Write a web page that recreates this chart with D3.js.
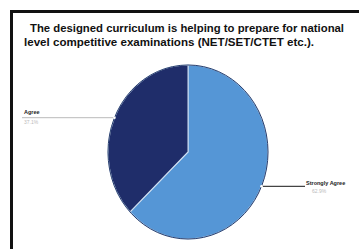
<!DOCTYPE html>
<html>
<head>
<meta charset="utf-8">
<script src="https://cdn.jsdelivr.net/npm/d3@7"></script>
<style>
  body { margin: 0; background: #fff; }
  svg { display: block; }
</style>
</head>
<body>
<svg id="chart"></svg>
<script>
const categories = ["Strongly Agree", "Agree"];
const values = [62.9, 37.1];
const pctLabels = ["62.9%", "37.1%"];
const colors = ["#5596d6", "#1f2d6a"];
const titleLines = [
    "The designed curriculum is helping to prepare for national",
    "level competitive examinations (NET/SET/CTET etc.)."
];

const width = 359, height = 249;
const svg = d3.select("#chart").attr("width", width).attr("height", height);

// frame (left and top edges visible in crop)
svg.append("path")
    .attr("d", "M11.5,249 V11.5 H359")
    .attr("fill", "none")
    .attr("stroke", "#111")
    .attr("stroke-width", 3);

const title = svg.append("text")
    .attr("font-family", "Liberation Sans, Arial, sans-serif")
    .attr("font-weight", "bold")
    .attr("font-size", 11.5)
    .attr("fill", "#111");
title.append("tspan").attr("x", 30).attr("y", 32).attr("textLength", 314).attr("lengthAdjust", "spacingAndGlyphs").text(titleLines[0]);
title.append("tspan").attr("x", 24).attr("y", 46).attr("textLength", 290).attr("lengthAdjust", "spacingAndGlyphs").text(titleLines[1]);

const cx = 188, cy = 152, rx = 80, ry = 87;

const pie = d3.pie().sort(null).value(d => d)(values);
const arc = d3.arc().innerRadius(0).outerRadius(rx);

svg.append("g")
    .attr("transform", `translate(${cx},${cy}) scale(1,${ry / rx})`)
    .selectAll("path")
    .data(pie)
    .join("path")
        .attr("d", arc)
        .attr("fill", (d, i) => colors[i])
        .attr("stroke", "#cfe0f2")
        .attr("stroke-width", 1);

// outer rim
svg.append("ellipse")
    .attr("cx", cx).attr("cy", cy).attr("rx", rx).attr("ry", ry)
    .attr("fill", "none").attr("stroke", "#2a3f6e").attr("stroke-width", 1);

// labels with horizontal leader lines
pie.forEach((d, i) => {
    const a = (d.startAngle + d.endAngle) / 2;
    const px = cx + Math.sin(a) * rx;
    const py = cy - Math.cos(a) * ry;
    const right = Math.sin(a) > 0;
    const ex = right ? 305 : 22;
    svg.append("line")
        .attr("x1", px).attr("y1", py).attr("x2", ex).attr("y2", py)
        .attr("stroke", right ? "#444" : "#bbb").attr("stroke-width", right ? 1.2 : 1);
    svg.append("circle").attr("cx", px).attr("cy", py).attr("r", 1.3).attr("fill", "#fff");
    const tx = right ? 306 : 24;
    svg.append("text")
        .attr("x", tx).attr("y", right ? py - 1 : py - 4)
        .attr("font-family", "Liberation Sans, Arial, sans-serif")
        .attr("font-weight", "bold").attr("font-size", 5.5).attr("fill", "#222")
        .text(categories[i]);
    svg.append("text")
        .attr("x", right ? tx + 6 : tx).attr("y", right ? py + 7 : py + 6)
        .attr("font-family", "Liberation Sans, Arial, sans-serif")
        .attr("font-size", 5).attr("fill", "#bbb")
        .text(pctLabels[i]);
});
</script>
</body>
</html>
